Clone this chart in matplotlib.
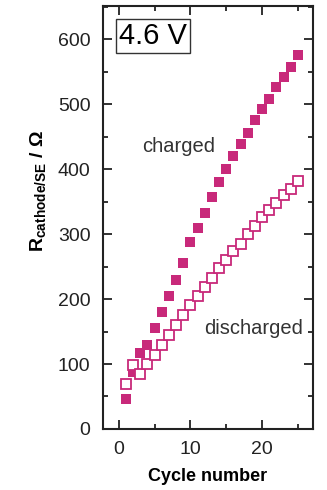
import matplotlib
matplotlib.use('Agg')

import matplotlib.pyplot as plt
from matplotlib.ticker import MultipleLocator

# valores
ciclos = list(range(1, 26))
r_carregado = [46, 87, 117, 130, 155, 180, 205, 229, 256, 287, 309, 333, 357,
               380, 400, 420, 438, 456, 475, 492, 508, 526, 542, 557, 575]
r_descarregado = [69, 99, 85, 100, 114, 129, 144, 160, 175, 191, 204, 219, 233,
                  247, 260, 274, 285, 300, 313, 326, 337, 348, 360, 370, 382]

cor = '#C8297A'

plt.rcParams['font.family'] = ['Liberation Sans', 'DejaVu Sans']
plt.rcParams['mathtext.fontset'] = 'custom'
plt.rcParams['mathtext.rm'] = 'Liberation Sans'
plt.rcParams['mathtext.bf'] = 'Liberation Sans:bold'

fig = plt.figure(figsize=(3.27, 4.90), dpi=100)
ax = fig.add_axes([0.315, 0.1245, 0.642, 0.8635])

ax.plot(ciclos, r_carregado, 's', color=cor, markersize=7, markeredgewidth=0)
ax.plot(ciclos, r_descarregado, 's', markerfacecolor='white', markeredgecolor=cor,
        markersize=6.5, markeredgewidth=1.3)

ax.set_xlim(-2.2, 27.1)
ax.set_ylim(0, 651)
ax.xaxis.set_major_locator(MultipleLocator(10))
ax.xaxis.set_minor_locator(MultipleLocator(5))
ax.yaxis.set_major_locator(MultipleLocator(100))
ax.yaxis.set_minor_locator(MultipleLocator(50))
ax.tick_params(which='both', direction='in', top=True, right=True, width=1.3,
               labelsize=14, colors='#222222', labelcolor='#222222')
ax.tick_params(which='major', length=6.5, pad=9)
ax.tick_params(which='minor', length=3.5)
for s in ax.spines.values():
    s.set_linewidth(1.5)
    s.set_color('#222222')

ax.set_xlabel('Cycle number', fontsize=13, fontweight='bold', labelpad=7)
ax.set_ylabel(r'$\mathbf{R}_{\mathbf{cathode/SE}}$ / Ω', fontsize=14,
              fontweight='bold')
ax.yaxis.set_label_coords(-0.255, 0.563)

ax.text(0.076, 0.962, '4.6 V', transform=ax.transAxes, fontsize=21,
        ha='left', va='top',
        bbox=dict(boxstyle='square,pad=0.1', facecolor='white',
                  edgecolor='#333333', linewidth=1))
ax.text(0.185, 0.667, 'charged', transform=ax.transAxes, fontsize=14.5,
        color='#333333', ha='left', va='center')
ax.text(0.48, 0.238, 'discharged', transform=ax.transAxes, fontsize=14.5,
        color='#333333', ha='left', va='center')

plt.savefig('out.png', dpi=100)
